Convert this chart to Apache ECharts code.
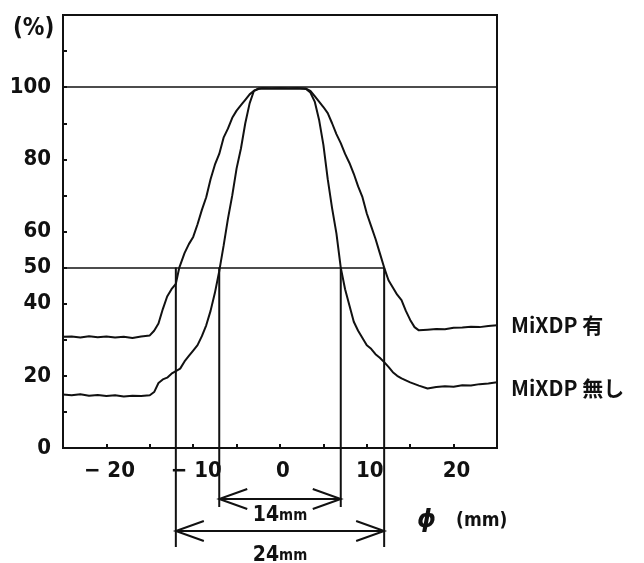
<!DOCTYPE html>
<html>
<head>
<meta charset="utf-8">
<script src="https://cdn.jsdelivr.net/npm/echarts@6/dist/echarts.min.js"></script>
<style>
  html, body { margin: 0; padding: 0; background: #fff; }
  #chart { width: 644px; height: 563px; }
</style>
</head>
<body>
<div id="chart"></div>
<script>
// x range (mm) and y range (%)
const xMin = -25;
const xMax = 25;
const yMin = 0;
const yMax = 120;
const yTickLabels = [0, 20, 40, 50, 60, 80, 100];
const xTickLabels = [-20, -10, 0, 10, 20];

// profile with MiXDP
const withMixdp = [
  [-25, 30.8], [-24, 30.9], [-23, 30.6], [-22, 31.0], [-21, 30.7], [-20, 30.9],
  [-19, 30.6], [-18, 30.8], [-17, 30.5], [-16, 30.9], [-15, 31.2], [-14.5, 32.5],
  [-14, 34.5], [-13.5, 38.5], [-13, 42], [-12.5, 44], [-12, 45.5], [-11.6, 50],
  [-11, 54], [-10.5, 56.5], [-10, 58.5], [-9.5, 62], [-9, 66], [-8.5, 69.5],
  [-8, 74.5], [-7.5, 78.5], [-7, 81.5], [-6.5, 86], [-6, 88.5], [-5.5, 91.5],
  [-5, 93.5], [-4.5, 95], [-4, 96.5], [-3.5, 98], [-3, 99], [-2.5, 99.5],
  [-2, 99.7], [-1, 99.6], [0, 99.7], [1, 99.6], [2, 99.7], [3, 99.6],
  [3.5, 99], [4, 97.5], [4.5, 96], [5, 94.5], [5.5, 92.8], [6, 90],
  [6.5, 87], [7, 84.5], [7.5, 81.5], [8, 79], [8.5, 76], [9, 72.5],
  [9.5, 69.5], [10, 65], [10.5, 61.5], [11, 58], [11.5, 54], [12, 50],
  [12.5, 46.5], [13, 44.5], [13.5, 42.5], [14, 41], [14.5, 38], [15, 35.5],
  [15.5, 33.5], [16, 32.6], [17, 32.8], [18, 33.0], [19, 32.9], [20, 33.3],
  [21, 33.4], [22, 33.6], [23, 33.5], [24, 33.8], [25, 34]
];

// profile without MiXDP
const withoutMixdp = [
  [-25, 14.8], [-24, 14.6], [-23, 14.9], [-22, 14.5], [-21, 14.7], [-20, 14.4],
  [-19, 14.6], [-18, 14.3], [-17, 14.5], [-16, 14.4], [-15, 14.6], [-14.5, 15.5],
  [-14, 18], [-13.5, 19], [-13, 19.5], [-12.5, 20.6], [-12, 21.3], [-11.5, 22],
  [-11, 24], [-10.5, 25.5], [-10, 27], [-9.5, 28.5], [-9, 31], [-8.5, 34],
  [-8, 38], [-7.5, 43], [-7, 49], [-6.5, 56], [-6, 63.5], [-5.5, 70],
  [-5, 77.5], [-4.5, 83], [-4, 90], [-3.5, 95.5], [-3, 99], [-2.5, 99.6],
  [-2, 99.7], [-1, 99.6], [0, 99.7], [1, 99.6], [2, 99.7], [3, 99.5],
  [3.5, 98.5], [4, 96], [4.5, 91], [5, 84], [5.5, 74.5], [6, 66.5],
  [6.5, 59.5], [7, 50], [7.5, 44], [8, 39.5], [8.5, 35], [9, 32.5],
  [9.5, 30.5], [10, 28.5], [10.5, 27.5], [11, 26], [11.5, 25], [12, 23.8],
  [12.5, 22.5], [13, 21], [13.5, 20], [14, 19.3], [15, 18.2], [16, 17.3],
  [17, 16.5], [18, 16.9], [19, 17.1], [20, 17.0], [21, 17.4], [22, 17.3],
  [23, 17.7], [24, 17.9], [25, 18.2]
];

const seriesNames = ['MiXDP 有', 'MiXDP 無し'];

// widths at 50 %
const spanEdges = [[-7, 7], [-12, 12]];
const spanLabels = ['14', '24'];
const halfLevel = 50;
const fullLevel = 100;

const font = '"Liberation Sans Narrow", "DejaVu Sans Condensed", "Noto Sans CJK JP", sans-serif';
const cjkFont = '"Noto Sans CJK JP", "Noto Sans", sans-serif';
const ink = '#111';

const chart = echarts.init(document.getElementById('chart'));

// dimension lines below the axis, offsets in px from the x axis
const lineDrop = [59, 99];
const arrowDrop = [51, 83];
const textDrop = [68, 108];

function renderSpan(params, api) {
  const i = params.dataIndex;
  const l = api.coord([api.value(0), halfLevel]);
  const r = api.coord([api.value(1), halfLevel]);
  const base = api.coord([0, yMin])[1];
  const yA = base + arrowDrop[i];
  const yEnd = base + lineDrop[i];
  const st = { stroke: ink, lineWidth: 2, fill: null };
  const head = 28, wing = 10;
  return {
    type: 'group',
    children: [
      { type: 'line', shape: { x1: l[0], y1: l[1], x2: l[0], y2: yEnd }, style: st },
      { type: 'line', shape: { x1: r[0], y1: r[1], x2: r[0], y2: yEnd }, style: st },
      { type: 'line', shape: { x1: l[0], y1: yA, x2: r[0], y2: yA }, style: st },
      { type: 'polyline', shape: { points: [[l[0] + head, yA - wing], [l[0], yA], [l[0] + head, yA + wing]] }, style: st },
      { type: 'polyline', shape: { points: [[r[0] - head, yA - wing], [r[0], yA], [r[0] - head, yA + wing]] }, style: st },
      {
        type: 'text',
        x: (l[0] + r[0]) / 2,
        y: base + textDrop[i],
        style: {
          text: '{n|' + spanLabels[i] + '}{u|mm}',
          align: 'center',
          verticalAlign: 'middle',
          rich: {
            n: { fontSize: 21, fontWeight: 'bold', fontFamily: font, fill: ink },
            u: { fontSize: 15, fontWeight: 'bold', fontFamily: font, fill: ink }
          }
        }
      }
    ]
  };
}

const lineLabel = (dy) => ({
  show: true,
  formatter: '{a}',
  offset: [6, dy],
  fontSize: 21,
  fontWeight: 'bold',
  fontFamily: cjkFont,
  color: ink
});

chart.setOption({
  animation: false,
  backgroundColor: '#fff',
  grid: {
    left: 63, right: 147, top: 15, bottom: 115,
    show: true, borderColor: ink, borderWidth: 2, backgroundColor: 'transparent'
  },
  xAxis: {
    type: 'value',
    min: xMin, max: xMax, interval: 5,
    axisLine: { show: true, onZero: false, lineStyle: { color: ink, width: 2 } },
    axisTick: { show: true, inside: true, length: 4, lineStyle: { color: ink, width: 2 } },
    splitLine: { show: false },
    axisLabel: {
      margin: 12,
      padding: [0, 0, 0, 6],
      color: ink, fontSize: 22, fontWeight: 'bold', fontFamily: font,
      formatter: v => xTickLabels.includes(v) ? (v < 0 ? '− ' + Math.abs(v) : String(v)) : ''
    }
  },
  yAxis: {
    type: 'value',
    min: yMin, max: yMax, interval: 10,
    axisLine: { show: true, onZero: false, lineStyle: { color: ink, width: 2 } },
    axisTick: { show: true, inside: true, length: 4, lineStyle: { color: ink, width: 2 } },
    splitLine: { show: false },
    axisLabel: {
      margin: 12,
      color: ink, fontSize: 22, fontWeight: 'bold', fontFamily: font,
      formatter: v => yTickLabels.includes(v) ? String(v) : ''
    }
  },
  graphic: [
    { type: 'text', left: 13, top: 17, style: { text: '(%)', fontSize: 24, fontWeight: 'bold', fontFamily: font, fill: ink } },
    {
      type: 'text', left: 417, top: 509,
      style: {
        text: '{p|ϕ}{u|(mm)}',
        rich: {
          p: { fontSize: 24, fontWeight: 'bold', fontStyle: 'italic', fontFamily: '"DejaVu Sans", sans-serif', fill: ink, padding: [0, 20, 0, 0] },
          u: { fontSize: 19, fontWeight: 'bold', fontFamily: font, fill: ink }
        }
      }
    }
  ],
  series: [
    {
      name: seriesNames[0],
      type: 'line',
      data: withMixdp,
      showSymbol: false,
      lineStyle: { color: ink, width: 2 },
      endLabel: lineLabel(0),
      markLine: {
        silent: true,
        symbol: 'none',
        label: { show: false },
        lineStyle: { color: ink, width: 1.5, type: 'solid' },
        data: [
          { yAxis: fullLevel },
          [{ coord: [xMin, halfLevel] }, { coord: [spanEdges[1][1], halfLevel] }]
        ]
      }
    },
    {
      name: seriesNames[1],
      type: 'line',
      data: withoutMixdp,
      showSymbol: false,
      lineStyle: { color: ink, width: 2 },
      endLabel: lineLabel(6)
    },
    {
      type: 'custom',
      clip: false,
      silent: true,
      data: spanEdges,
      renderItem: renderSpan
    }
  ]
});
</script>
</body>
</html>
